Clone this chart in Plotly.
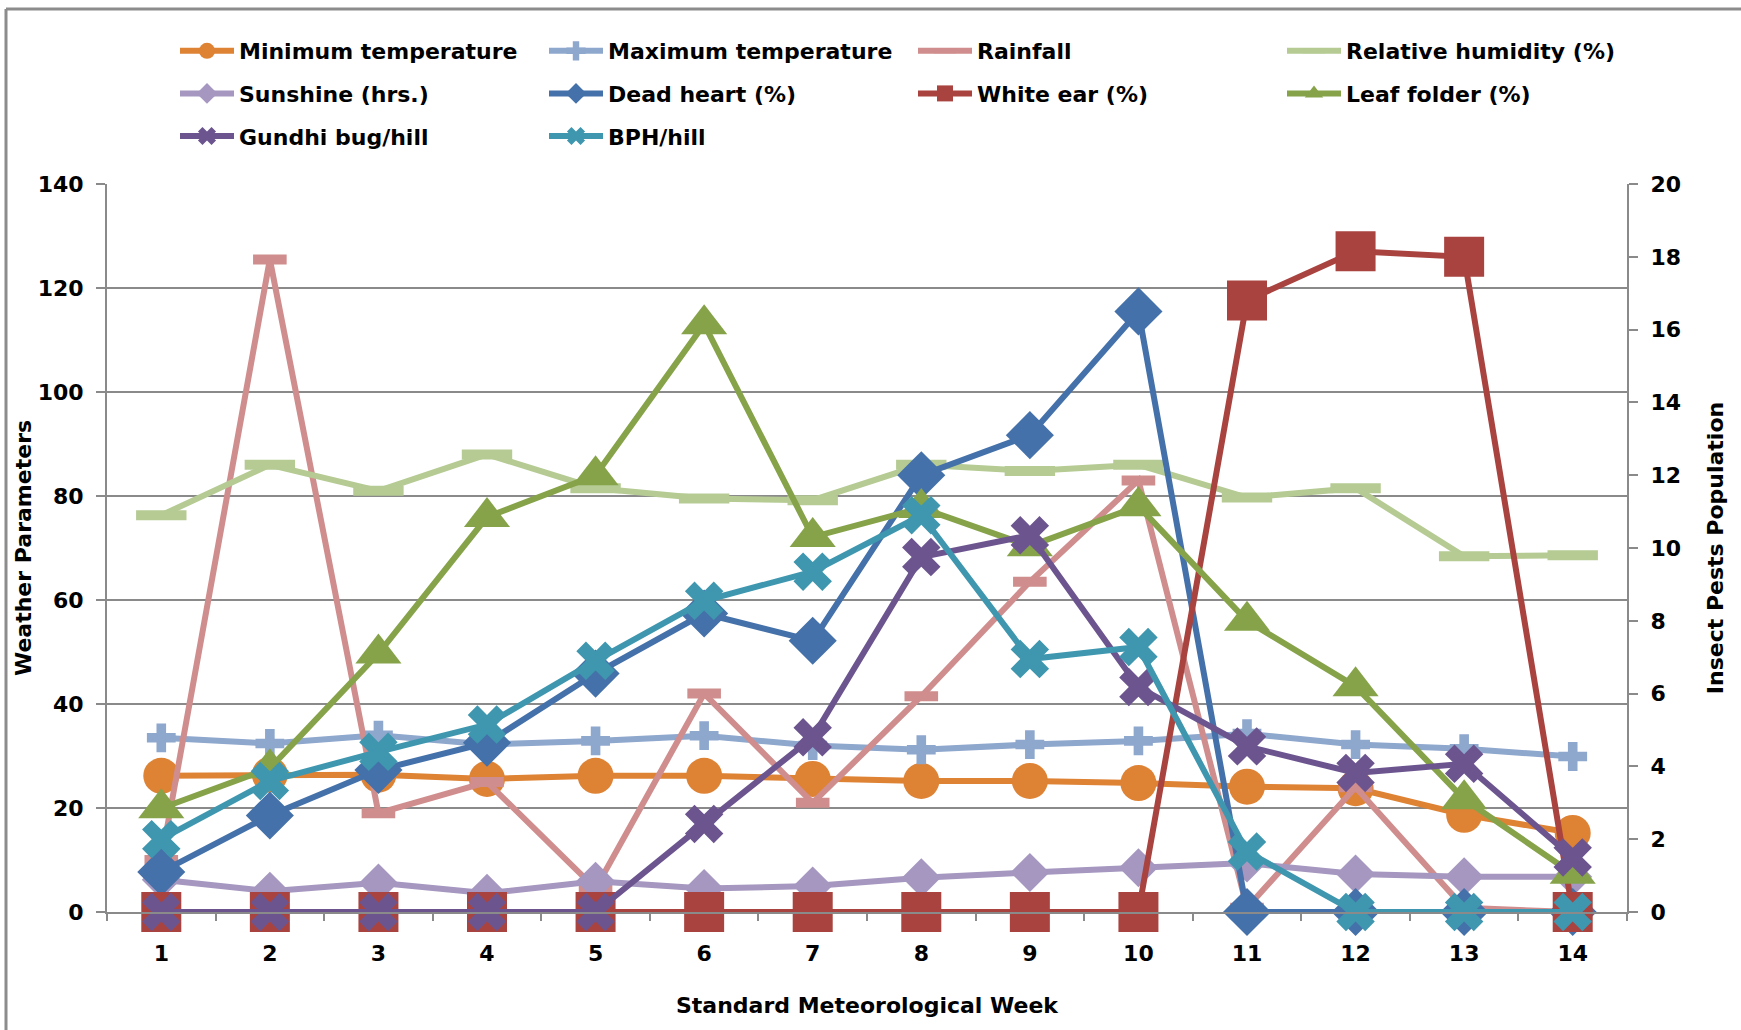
import plotly.graph_objects as go

weeks = [str(i) for i in range(1, 15)]

min_temp = [26.2, 26.4, 26.4, 25.6, 26.2, 26.2, 25.6, 25.2, 25.2, 24.8, 24.1, 23.8, 18.7, 15.2]
max_temp = [33.5, 32.4, 34.0, 32.2, 32.9, 33.9, 32.0, 31.2, 32.2, 32.9, 34.3, 32.2, 31.4, 29.9]
rainfall = [10.0, 125.5, 19.0, 25.0, 4.5, 42.0, 21.0, 41.5, 63.5, 83.0, 0.8, 24.0, 0.8, 0.0]
rel_humidity = [76.3, 86.0, 81.0, 88.0, 81.5, 79.5, 79.2, 86.0, 84.8, 86.0, 79.7, 81.5, 68.4, 68.6]
sunshine = [6.2, 4.0, 5.6, 3.6, 5.9, 4.5, 5.0, 6.6, 7.6, 8.5, 9.4, 7.3, 6.8, 6.8]

dead_heart = [1.1, 2.65, 3.9, 4.65, 6.55, 8.2, 7.45, 12.0, 13.1, 16.5, 0, 0, 0, 0]
white_ear = [0, 0, 0, 0, 0, 0, 0, 0, 0, 0, 16.8, 18.15, 18.0, 0]
leaf_folder = [2.85, 3.95, 7.1, 10.85, 12.0, 16.15, 10.3, 11.1, 10.05, 11.15, 8.0, 6.2, 3.1, 1.05]
gundhi_bug = [0, 0, 0, 0, 0, 2.42, 4.8, 9.75, 10.35, 6.18, 4.55, 3.82, 4.07, 1.5]
bph = [2.0, 3.6, 4.4, 5.15, 6.9, 8.55, 9.35, 10.9, 6.95, 7.28, 1.66, 0, 0, 0]

FONT = "DejaVu Sans"
GRAY = "#8a8a8a"
LW = 6

series = [
    # name, values, color, symbol, size, axis, legend
    ("Minimum temperature", min_temp, "#DE8234", "circle", 36, "y", "legend"),
    ("Maximum temperature", max_temp, "#8EA7CD", "cross", 24, "y", "legend2"),
    ("Rainfall", rainfall, "#D08D8D", "line-ew", 24, "y", "legend3"),
    ("Relative humidity (%)", rel_humidity, "#B5CB93", "line-ew", 36, "y", "legend4"),
    ("Sunshine (hrs.)", sunshine, "#A597BF", "diamond", 30, "y", "legend"),
    ("Dead heart (%)", dead_heart, "#4471A9", "diamond", 37, "y2", "legend2"),
    ("White ear (%)", white_ear, "#A9433F", "square", 40, "y2", "legend3"),
    ("Leaf folder (%)", leaf_folder, "#86A34A", "triangle-up", 40, "y2", "legend4"),
    ("Gundhi bug/hill", gundhi_bug, "#6C558F", "x", 34, "y2", "legend"),
    ("BPH/hill", bph, "#3E97AF", "x", 34, "y2", "legend2"),
]

fig = go.Figure()
for i, (name, vals, color, sym, size, ax, leg) in enumerate(series):
    if sym == "line-ew":
        marker = dict(symbol=sym, size=size, line=dict(color=color, width=10), color=color)
    else:
        marker = dict(symbol=sym, size=size, color=color, line=dict(width=0))
    fig.add_trace(go.Scatter(
        x=weeks, y=vals, name=name, mode="lines+markers",
        line=dict(color=color, width=LW), cliponaxis=False,
        marker=marker, yaxis=ax, legend=leg, legendgroup=f"g{i}",
    ))

W, H = 1741, 1030
L, R, T, B = 107, 114, 184, 118
pw, ph = W - L - R, H - T - B

def px_x(p):
    return (p - L) / pw

def px_y(p):
    return (H - B - p) / ph

legend_common = dict(
    orientation="v", yanchor="top", xanchor="left", y=px_y(30),
    font=dict(family=FONT, size=22, color="black", weight="bold"),
    tracegroupgap=11, itemwidth=54, bgcolor="rgba(0,0,0,0)", borderwidth=0,
)

tfont = dict(family=FONT, size=22, color="black", weight="bold")

fig.update_layout(
    width=W, height=H, autosize=False,
    margin=dict(l=L, r=R, t=T, b=B, pad=0, autoexpand=False),
    paper_bgcolor="white", plot_bgcolor="white",
    font=tfont,
    showlegend=True,
    legend=dict(x=px_x(175), **legend_common),
    legend2=dict(x=px_x(544), **legend_common),
    legend3=dict(x=px_x(913), **legend_common),
    legend4=dict(x=px_x(1282), **legend_common),
    xaxis=dict(
        type="category", range=[-0.5, 13.5], autorange=False, tickson="boundaries",
        ticks="outside", ticklen=7, automargin=False,
        tickcolor=GRAY, tickwidth=2, showline=True, linecolor=GRAY, linewidth=2,
        showgrid=False, ticklabelstandoff=21, tickfont=tfont,
        title=dict(text="Standard Meteorological Week", standoff=32, font=tfont),
    ),
    yaxis=dict(
        range=[0, 140], dtick=20, ticks="outside", ticklen=9, tickcolor=GRAY, tickwidth=2,
        showline=True, linecolor=GRAY, linewidth=2, showgrid=True, gridcolor=GRAY,
        gridwidth=2, zeroline=False, ticklabelstandoff=8, automargin=False,
        tickfont=tfont,
        title=dict(text="Weather Parameters", standoff=0, font=tfont),
    ),
    yaxis2=dict(
        range=[0, 20], dtick=2, overlaying="y", side="right", ticks="outside", ticklen=9,
        tickcolor=GRAY, tickwidth=2, showline=True, linecolor=GRAY, linewidth=2,
        showgrid=False, zeroline=False, ticklabelstandoff=8, automargin=False,
        tickfont=tfont,
        title=dict(text="Insect Pests Population", standoff=28, font=tfont),
    ),
    shapes=[
        dict(type="line", xref="paper", yref="paper", x0=px_x(6), x1=px_x(W), y0=px_y(9), y1=px_y(9),
             line=dict(color="#8c8c8c", width=3)),
        dict(type="line", xref="paper", yref="paper", x0=px_x(6), x1=px_x(6), y0=px_y(9), y1=px_y(H),
             line=dict(color="#8c8c8c", width=3)),
    ],
)

fig.write_html("out.html", config={"displayModeBar": False},
               post_script="document.body.style.margin='0';")
